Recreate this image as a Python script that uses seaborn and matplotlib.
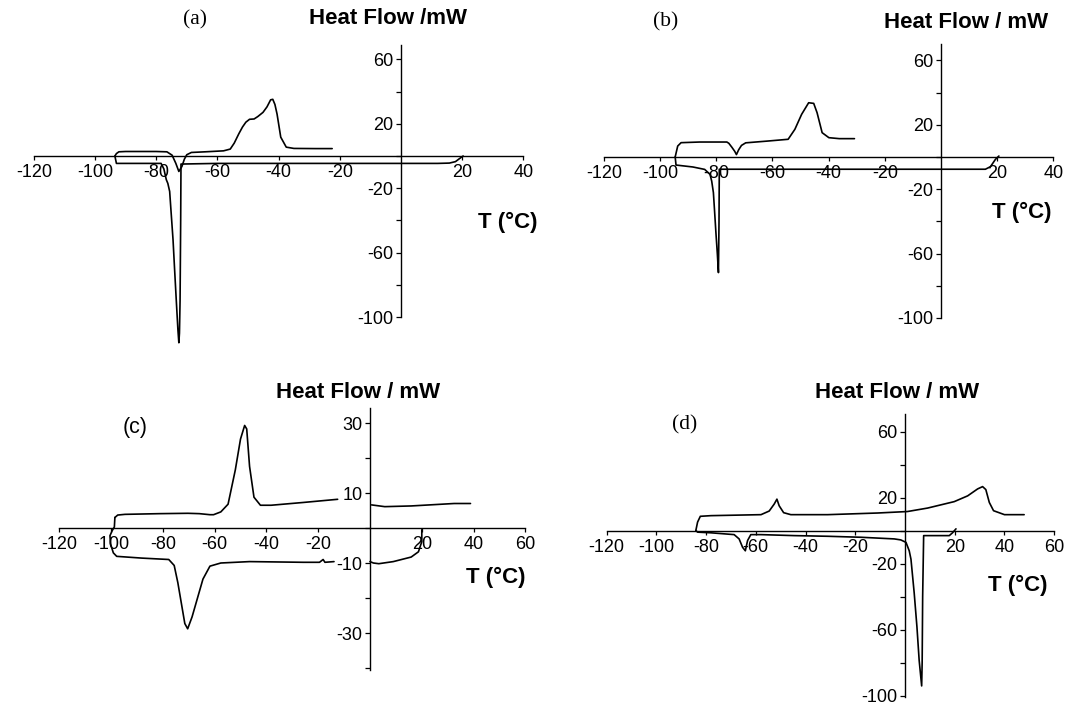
import numpy as np
import matplotlib
matplotlib.use("Agg")
import matplotlib.pyplot as plt
import seaborn as sns

nan = np.nan

# ---------------- data (temperature in °C, heat flow in mW) ----------------
# panel (a)
a_heat_T = [-93.5, -93.0, -92.2, -90, -80, -76.5, -74.8, -73.6, -72.6, -71.6, -70.8, -70.0, -68.5,
            -64, -58, -55.8, -54.5, -53.0, -51.8, -50.7, -49.5, -48.0, -46.8, -45.1, -43.8, -42.6,
            -41.9, -41.2, -40.5, -39.3, -37.5, -35, -28, -22.5]
a_heat_HF = [0, 1.5, 2.6, 2.8, 2.8, 2.6, 0.5, -4.5, -9.6, -6.5, -2.0, 0.8, 2.2,
             2.6, 3.2, 4.3, 8.0, 13.8, 18.0, 21.0, 22.8, 23.0, 24.5, 27.1, 30.5, 34.9,
             35.2, 32.0, 26.0, 11.7, 5.5, 4.7, 4.6, 4.6]
a_cool_T = [20.3, 19.2, 17.8, 15.8, 12, 0, -30, -60, -71.9, -72.0, -72.2, -72.4, -72.6, -72.9,
            -73.4, -74.0, -74.5, -75.2, -75.6, -76.2, -76.7, -77.5, -78.4, -85, -93.0, -93.5]
a_cool_HF = [0, -1.5, -3.5, -4.4, -4.6, -4.6, -4.6, -4.6, -5.0, -40, -90, -110, -116, -108,
             -91, -70, -52, -33, -22, -17, -14.7, -8, -4.6, -4.6, -4.6, 0]

# panel (b)
b_heat_T = [-94.6, -93.7, -92.5, -85.9, -76.2, -75.5, -74.4, -73.4, -72.8, -72.0, -71.0, -69.5,
            -61.7, -54.4, -52.0, -49.6, -47.1, -45.3, -44.1, -42.3, -39.9, -36.2, -30.8]
b_heat_HF = [0, 6.8, 8.9, 9.3, 9.3, 8.5, 6.0, 3.5, 1.5, 4.5, 7.2, 8.8,
             9.9, 11.0, 17.2, 26.5, 33.7, 33.3, 27.5, 15.1, 12.0, 11.4, 11.4]
b_cool_T = [20.6, 19.4, 17.6, 15.8, 0, -40, -78.9, -79.0, -79.2, -79.6, -80.1, -80.6, -81.0,
            -81.6, -82.2, -84.1, -88.3, -94.3, -94.6]
b_cool_HF = [0.6, -1.4, -6.0, -7.6, -7.6, -7.6, -7.6, -40, -71.8, -60, -47, -33, -22.1,
             -15, -10.8, -7.7, -6.2, -5.0, 0]

# panel (c)
c_heat_T = [-98.5, -97.4, -94.6, -81.2, -70.3, -65.9, -61.8, -60.4, -57.6, -54.8, -52.0, -50.0,
            -48.4, -47.6, -46.5, -44.8, -42.3, -38.2, -25.7, -12.5, nan, 0.6, 5.7, 15.9, 32.5, 38.8]
c_heat_HF = [3.0, 3.7, 3.9, 4.1, 4.2, 4.1, 3.8, 3.8, 4.6, 6.8, 16.6, 25.4,
             29.3, 28.3, 17.6, 8.8, 6.5, 6.5, 7.3, 8.2, nan, 6.6, 6.1, 6.3, 7.0, 7.0]
c_cool_T = [20.0, 20.0, 18.7, 15.9, 9.0, 3.4, 1.3, 0.0, nan, -13.9, -17.4, -18.1, -19.5, -25.7,
            -46.5, -57.6, -61.8, -64.5, -68.7, -70.4, -71.5, -74.2, -75.6, -77.7, -88.1, -97.8,
            -99.1, -100.2, -100.4, -99.5, -98.7, -98.5]
c_cool_HF = [-0.5, -3.9, -6.8, -8.3, -9.6, -10.2, -10.0, -9.6, nan, -9.6, -9.8, -9.0, -9.8, -9.8,
             -9.6, -10.0, -10.9, -14.6, -25.4, -28.8, -27.3, -15.6, -10.7, -9.0, -8.6, -8.1,
             -7.1, -4.5, -2.2, -0.7, 0.3, 3.0]

# panel (d)
d_heat_T = [-84.1, -83.4, -82.3, -78.0, -57.9, -54.6, -52.6, -51.5, -50.6, -48.8, -45.9, -31.1,
            -11.0, 1.0, 9.1, 19.8, 25.2, 29.2, 31.2, 32.5, 33.9, 35.6, 40.0, 47.9]
d_heat_HF = [0, 5.1, 8.6, 9.0, 9.6, 11.8, 16.0, 19.0, 15.0, 10.8, 9.6, 9.6,
             10.6, 11.5, 13.6, 17.5, 21.0, 25.2, 26.6, 24.8, 17.0, 12.0, 9.6, 9.6]
d_cool_T = [20.5, 19.1, 17.8, 7.5, 7.1, 6.9, 6.7, 5.7, 4.8, 3.7, 2.4, 1.7, 0.4, -1.7, -4.3,
            -17.7, -31.1, -44.5, -57.9, -62.0, -63.3, -64.2, -65.3, -66.7, -68.7, -78.0, -83.4, -84.1]
d_cool_HF = [1, -1.4, -3.1, -3.1, -40, -80, -94.2, -78.8, -58.4, -37.9, -17.4, -12.3, -7.2, -5.7,
             -5.1, -4.1, -3.5, -3.1, -2.5, -2.5, -6.1, -12.3, -10.2, -5.1, -2.5, -1.4, -1.0, 0]

# tick values
ticks_x_ab = [-120, -100, -80, -60, -40, -20, 20, 40]
ticks_x_cd = [-120, -100, -80, -60, -40, -20, 20, 40, 60]
ticks_y_big = [-100, -60, -20, 20, 60]
minor_y_big = [-80, -40, 0, 40]
ticks_y_c = [-30, -10, 10, 30]
minor_y_c = [-40, -20, 0, 20]

panel_tags = ["(a)", "(b)", "(c)", "(d)"]
ylabels = ["Heat Flow /mW", "Heat Flow / mW", "Heat Flow / mW", "Heat Flow / mW"]
xlabel = "T (°C)"

# ---------------- style ----------------
sns.set_theme(style="white")
plt.rcParams['font.family'] = ['Liberation Sans', 'DejaVu Sans']
plt.rcParams['axes.unicode_minus'] = False

W, H = 1066, 710
fig = plt.figure(figsize=(W / 100, H / 100), dpi=100)
fig.patch.set_facecolor("white")

# layout (pixel of T=0, px per °C, pixel of HF=0, px per mW)
layouts = [
    dict(x0=401, sx=3.06, y0=156, sy=1.61, xlim=(-122, 42), ylim=(-119, 71),
         xb=(-120, 40), yb=(-100, 69), xt=ticks_x_ab, yt=ticks_y_big, ym=minor_y_big,
         tag=(195, 20, 'Liberation Serif'), yl=(388, 18), xl=(538, 222)),
    dict(x0=941, sx=2.81, y0=157, sy=1.61, xlim=(-122, 42), ylim=(-102, 72),
         xb=(-120, 40), yb=(-100, 70), xt=ticks_x_ab, yt=ticks_y_big, ym=minor_y_big,
         tag=(666, 22, 'Liberation Serif'), yl=(966, 22), xl=(1052, 212)),
    dict(x0=370, sx=2.59, y0=528, sy=3.5, xlim=(-122, 62), ylim=(-42, 35.5),
         xb=(-120, 60), yb=(-40.5, 34.3), xt=ticks_x_cd, yt=ticks_y_c, ym=minor_y_c,
         tag=(135, 428, 'Liberation Sans'), yl=(358, 393), xl=(525, 577)),
    dict(x0=905, sx=2.487, y0=530.5, sy=1.65, xlim=(-122, 62), ylim=(-102, 72),
         xb=(-120, 60), yb=(-101, 70.6), xt=ticks_x_cd, yt=ticks_y_big, ym=minor_y_big,
         tag=(685, 425, 'Liberation Serif'), yl=(897, 393), xl=(1047, 585)),
]

curves = [
    [(a_heat_T, a_heat_HF), (a_cool_T, a_cool_HF)],
    [(b_heat_T, b_heat_HF), (b_cool_T, b_cool_HF)],
    [(c_heat_T, c_heat_HF), (c_cool_T, c_cool_HF)],
    [(d_heat_T, d_heat_HF), (d_cool_T, d_cool_HF)],
]


def segments(xs, ys):
    xs = np.asarray(xs, float)
    ys = np.asarray(ys, float)
    bad = np.isnan(xs) | np.isnan(ys)
    idx = np.where(bad)[0]
    start = 0
    for i in list(idx) + [len(xs)]:
        if i - start > 1:
            yield xs[start:i], ys[start:i]
        start = i + 1


for lay, tag, ylab, curvs in zip(layouts, panel_tags, ylabels, curves):
    left = lay['x0'] + lay['xlim'][0] * lay['sx']
    right = lay['x0'] + lay['xlim'][1] * lay['sx']
    top = lay['y0'] - lay['ylim'][1] * lay['sy']
    bottom = lay['y0'] - lay['ylim'][0] * lay['sy']
    ax = fig.add_axes([left / W, 1 - bottom / H, (right - left) / W, (bottom - top) / H])
    ax.set_facecolor("none")

    for xs, ys in curvs:
        for sx_, sy_ in segments(xs, ys):
            sns.lineplot(x=sx_, y=sy_, sort=False, estimator=None, color="black",
                         linewidth=1.2, ax=ax)

    ax.set_xlim(*lay['xlim'])
    ax.set_ylim(*lay['ylim'])
    for s in ("top", "right"):
        ax.spines[s].set_visible(False)
    for s in ("left", "bottom"):
        ax.spines[s].set_position(("data", 0))
        ax.spines[s].set_color("black")
        ax.spines[s].set_linewidth(1.0)
    ax.spines["bottom"].set_bounds(*lay['xb'])
    ax.spines["left"].set_bounds(*lay['yb'])

    ax.set_xticks(lay['xt'])
    ax.set_xticklabels([str(v) for v in lay['xt']])
    ax.set_yticks(lay['yt'])
    ax.set_yticklabels([str(v) for v in lay['yt']])
    ax.set_yticks(lay['ym'], minor=True)
    ax.tick_params(axis="x", direction="out", length=3, width=0.9, labelsize=13,
                   pad=3, colors="black", bottom=True)
    ax.tick_params(axis="y", which="both", direction="out", length=3.5, width=0.9,
                   labelsize=13, pad=2, colors="black", left=True)
    ax.set_xlabel("")
    ax.set_ylabel("")
    ax.grid(False)

    tx, ty, tfam = lay['tag']
    fig.text(tx / W, 1 - ty / H, tag, ha="center", va="center", fontsize=15.5,
             family=tfam, color="black")
    fig.text(lay['yl'][0] / W, 1 - lay['yl'][1] / H, ylab, ha="center", va="center",
             fontsize=16, fontweight="bold", color="black")
    fig.text(lay['xl'][0] / W, 1 - lay['xl'][1] / H, xlabel, ha="right", va="center",
             fontsize=16, fontweight="bold", color="black")

fig.savefig("out.png", dpi=100, facecolor="white")
